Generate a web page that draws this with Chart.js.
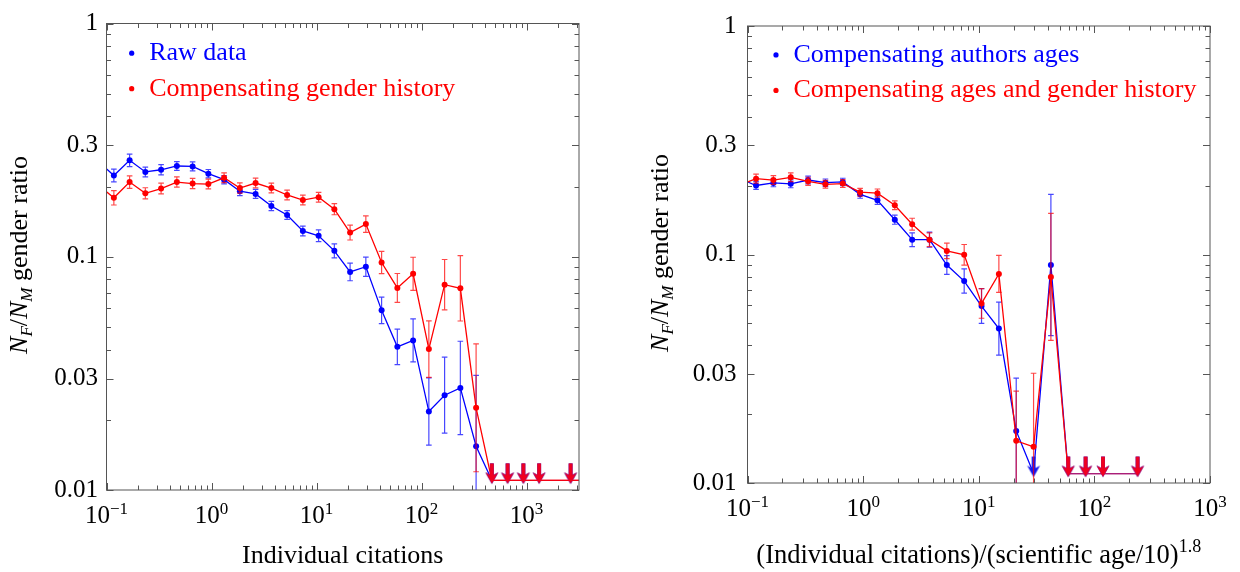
<!DOCTYPE html>
<html lang="en">
<head>
<meta charset="UTF-8">
<title>Gender ratio vs citations</title>
<script src="https://cdn.jsdelivr.net/npm/chart.js"></script>
<style>
  html, body { margin: 0; padding: 0; background: #fff; }
  #wrap { position: relative; width: 1240px; height: 572px; overflow: hidden; }
  canvas { position: absolute; top: 0; }
  #left { left: 0; }
  #right { left: 620px; }
</style>
</head>
<body>
<div id="wrap">
  <canvas id="left" width="610" height="572"></canvas>
  <canvas id="right" width="620" height="572"></canvas>
</div>
<script>
// values; null = empty bin, drawn as an upper-limit arrow
const limitLevel = 0.011;

// left panel: individual citations
const leftCites = [0.0832, 0.1175, 0.166, 0.2344, 0.3311, 0.4677, 0.6607, 0.9333, 1.318, 1.862,
  2.63, 3.715, 5.248, 7.413, 10.47, 14.79, 20.89, 29.51, 41.69, 58.88,
  83.18, 117.5, 166, 234.4, 331.1, 467.7, 660.7, 933.3, 1318, 2630, 3715];
const rawRatio = [0.257, 0.223, 0.259, 0.231, 0.236, 0.245, 0.244, 0.227, 0.214, 0.191,
  0.186, 0.165, 0.151, 0.129, 0.123, 0.106, 0.0861, 0.0906, 0.0589, 0.0411,
  0.0438, 0.0217, 0.0255, 0.0274, 0.0154, null, null, null, null, null, null];
const rawErr = [0.027, 0.027, 0.027, 0.021, 0.022, 0.019, 0.019, 0.018, 0.018, 0.019,
  0.019, 0.020, 0.019, 0.021, 0.025, 0.030, 0.038, 0.041, 0.057, 0.076,
  0.092, 0.144, 0.163, 0.200, 0.304, null, null, null, null, null, null];
const genderRatio = [0.203, 0.179, 0.209, 0.187, 0.196, 0.209, 0.206, 0.205, 0.218, 0.197,
  0.207, 0.197, 0.184, 0.175, 0.180, 0.160, 0.127, 0.138, 0.0945, 0.0735,
  0.0845, 0.0402, 0.0759, 0.0732, 0.0225, null, null, null, null, null, null];
const genderErr = [0.030, 0.031, 0.027, 0.024, 0.023, 0.022, 0.022, 0.021, 0.021, 0.022,
  0.021, 0.021, 0.021, 0.021, 0.021, 0.024, 0.032, 0.035, 0.048, 0.062,
  0.071, 0.121, 0.108, 0.140, 0.274, null, null, null, null, null, null];

// right panel: citations / (scientific age/10)^1.8
const ageCites = [0.0839, 0.1186, 0.1675, 0.2366, 0.3342, 0.4721, 0.6668, 0.9419, 1.330, 1.879,
  2.655, 3.750, 5.297, 7.482, 10.57, 14.93, 21.09, 29.79, 42.07, 59.43,
  83.95, 118.6, 236.6];
const ageRatio = [0.216, 0.2004, 0.2058, 0.2038, 0.2118, 0.2063, 0.2078, 0.1833, 0.1726, 0.1420,
  0.1161, 0.1161, 0.0899, 0.0765, 0.0595, 0.0474, 0.0169, null, 0.0899, null,
  null, null, null];
const ageErr = [0.017, 0.017, 0.017, 0.017, 0.017, 0.016, 0.016, 0.017, 0.018, 0.020,
  0.030, 0.033, 0.041, 0.053, 0.076, 0.116, 0.231, null, 0.309, null,
  null, null, null];
const ageGenderRatio = [0.2004, 0.2148, 0.2118, 0.2177, 0.2090, 0.2029, 0.2043, 0.1874, 0.1856, 0.1643,
  0.1357, 0.1161, 0.1037, 0.0997, 0.0611, 0.0822, 0.0153, 0.0144, 0.0798, null,
  null, null, null];
const ageGenderErr = [0.020, 0.020, 0.019, 0.019, 0.018, 0.017, 0.017, 0.017, 0.018, 0.019,
  0.026, 0.030, 0.034, 0.045, 0.065, 0.081, 0.217, 0.322, 0.278, null,
  null, null, null];

const yTickLabels = [0.01, 0.03, 0.1, 0.3, 1];
const xTickValues = [0.1, 1, 10, 100, 1000];
const xTickExps = ['\u22121', '0', '1', '2', '3'];

const serif = "'Liberation Serif', 'Times New Roman', serif";
const BLUE = '#0000ff', RED = '#ff0000';

// down arrow used as point style, the tip sits just under the point
function arrowImage(color) {
    const c = document.createElement('canvas');
    c.width = 16; c.height = 40;
    const g = c.getContext('2d');
    const cx = 8, cy = 20;
    g.fillStyle = color;
    g.fillRect(cx - 1.9, cy - 17, 3.8, 14);
    g.beginPath();
    g.moveTo(cx, cy + 3.5);
    g.lineTo(cx - 6.5, cy - 8);
    g.lineTo(cx, cy - 4.5);
    g.lineTo(cx + 6.5, cy - 8);
    g.closePath();
    g.fill();
    return c;
}

function withAlpha(hex, a) {
    const n = parseInt(hex.slice(1), 16);
    return `rgba(${n >> 16},${(n >> 8) & 255},${n & 255},${a})`;
}

// error bars, frame, inward ticks, x labels with exponents, y title, legend
const decorPlugin = {
    id: 'decor',
    beforeDatasetDraw(chart, args) {
        const ds = chart.data.datasets[args.index];
        if (!ds.errLog) return;
        const {ctx, chartArea: a} = chart;
        const xs = chart.scales.x, ys = chart.scales.y;
        ctx.save();
        ctx.beginPath();
        ctx.rect(a.left, a.top, a.right - a.left, a.bottom - a.top);
        ctx.clip();
        ctx.strokeStyle = withAlpha(ds.borderColor, 0.72);
        ctx.lineWidth = 1.2;
        ctx.beginPath();
        ds.cites.forEach((c, i) => {
            const v = ds.ratio[i], e = ds.errLog[i];
            if (v === null || e === null) return;
            const px = xs.getPixelForValue(c);
            const hi = ys.getPixelForValue(v * Math.pow(10, e));
            const lo = ys.getPixelForValue(v / Math.pow(10, e));
            ctx.moveTo(px, hi); ctx.lineTo(px, lo);
            ctx.moveTo(px - 2.8, hi); ctx.lineTo(px + 2.8, hi);
            ctx.moveTo(px - 2.8, lo); ctx.lineTo(px + 2.8, lo);
        });
        ctx.stroke();
        ctx.restore();
    },
    afterDraw(chart, args, o) {
        const {ctx, chartArea: a} = chart;
        const xs = chart.scales.x, ys = chart.scales.y;
        ctx.save();
        ctx.strokeStyle = '#555';
        ctx.lineWidth = 1;
        ctx.strokeRect(a.left, a.top, a.right - a.left, a.bottom - a.top);
        ctx.beginPath();
        for (let d = -1; d <= 3; d++) {
            for (let m = 1; m <= 9; m++) {
                const v = m * Math.pow(10, d);
                if (v < xs.min * 0.999 || v > xs.max * 1.001) continue;
                const px = Math.round(xs.getPixelForValue(v)) + 0.5, len = m === 1 ? 7 : 4.5;
                ctx.moveTo(px, a.bottom); ctx.lineTo(px, a.bottom - len);
                ctx.moveTo(px, a.top); ctx.lineTo(px, a.top + len);
            }
        }
        for (let d = -2; d <= 0; d++) {
            for (let m = 1; m <= 9; m++) {
                const v = m * Math.pow(10, d);
                if (v > ys.max * 1.001) continue;
                const py = Math.round(ys.getPixelForValue(v)) + 0.5, len = (m === 1 || m === 3) ? 7 : 4.5;
                ctx.moveTo(a.left, py); ctx.lineTo(a.left + len, py);
                ctx.moveTo(a.right, py); ctx.lineTo(a.right - len, py);
            }
        }
        ctx.stroke();

        // x tick labels 10^n
        ctx.fillStyle = '#000';
        ctx.textAlign = 'left';
        ctx.textBaseline = 'alphabetic';
        xTickValues.forEach((v, i) => {
            const px = xs.getPixelForValue(v);
            ctx.font = `25px ${serif}`;
            const w1 = ctx.measureText('10').width;
            ctx.font = `17px ${serif}`;
            const w2 = ctx.measureText(xTickExps[i]).width;
            const x0 = px - (w1 + w2) / 2, base = a.bottom + 33;
            ctx.font = `25px ${serif}`;
            ctx.fillText('10', x0, base);
            ctx.font = `17px ${serif}`;
            ctx.fillText(xTickExps[i], x0 + w1, base - 9);
        });

        // y title N_F/N_M gender ratio
        const parts = [['N', 'italic 26px', 0], ['F', 'italic 17px', 5], ['/', '26px', 0],
            ['N', 'italic 26px', 0], ['M', 'italic 17px', 5], [' gender ratio', '26px', 0]];
        let total = 0;
        parts.forEach(p => { ctx.font = `${p[1]} ${serif}`; total += ctx.measureText(p[0]).width; });
        ctx.save();
        ctx.translate(o.yTitleX, o.yTitleY);
        ctx.rotate(-Math.PI / 2);
        let x = -total / 2;
        parts.forEach(p => {
            ctx.font = `${p[1]} ${serif}`;
            ctx.fillText(p[0], x, p[2]);
            x += ctx.measureText(p[0]).width;
        });
        ctx.restore();

        // x title with exponent (right panel)
        if (o.xTitleMain) {
            ctx.font = `26.5px ${serif}`;
            const w1 = ctx.measureText(o.xTitleMain).width;
            ctx.font = `18px ${serif}`;
            const w2 = ctx.measureText(o.xTitleExp).width;
            const x0 = (a.left + a.right) / 2 - (w1 + w2) / 2;
            ctx.font = `26.5px ${serif}`;
            ctx.fillText(o.xTitleMain, x0, o.xTitleBase);
            ctx.font = `18px ${serif}`;
            ctx.fillText(o.xTitleExp, x0 + w1, o.xTitleBase - 11);
        }

        // legend inside the frame
        ctx.font = `26px ${serif}`;
        o.legend.forEach((item, i) => {
            const base = o.legendBase + i * 35.5;
            ctx.fillStyle = item.color;
            ctx.beginPath();
            ctx.arc(o.legendX, base - 6.8, 2.6, 0, Math.PI * 2);
            ctx.fill();
            ctx.fillText(item.text, o.legendX + 17.5, base);
        });
        ctx.restore();
    }
};

function makeChart(id, p) {
    const line = (cites, ratio, err, color, limitColor, order) => ({
        order,
        cites, ratio, errLog: err,
        data: cites.map((x, i) => ({x, y: ratio[i] === null ? limitLevel : ratio[i]})),
        borderColor: color,
        backgroundColor: color,
        borderWidth: 1.3,
        pointRadius: ctx => ratio[ctx.dataIndex] === null ? 0 : 3,
        pointBorderWidth: 0,
        pointHoverRadius: 0,
        tension: 0,
        clip: 0,
        segment: {
            borderColor: s => (ratio[s.p0DataIndex] === null && ratio[s.p1DataIndex] === null) ? limitColor : undefined
        }
    });
    const arrows = (cites, ratio, img, order) => ({
        order,
        data: cites.map((x, i) => ratio[i] === null ? {x, y: limitLevel} : null).filter(d => d),
        showLine: false,
        pointStyle: img,
        pointRadius: 6,
        clip: 0
    });

    return new Chart(document.getElementById(id), {
        type: 'line',
        data: {
            datasets: [
                line(p.cites, p.blue, p.blueErr, BLUE, p.limitColor, 3),
                arrows(p.cites, p.blue, arrowImage('rgb(20,20,240)'), 2),
                line(p.cites, p.red, p.redErr, RED, p.limitColor, 1),
                arrows(p.cites, p.red, arrowImage('rgb(240,0,32)'), 0)
            ]
        },
        options: {
            responsive: false,
            animation: false,
            events: [],
            layout: {padding: p.padding},
            plugins: {
                legend: {display: false},
                tooltip: {enabled: false},
                decor: p.decor
            },
            scales: {
                x: {
                    type: 'logarithmic',
                    min: 0.1,
                    max: p.xMax,
                    grid: {display: false, drawTicks: false},
                    border: {display: false},
                    ticks: {display: false},
                    title: p.xTitle,
                    afterFit: s => { s.height = p.xAxisHeight; }
                },
                y: {
                    type: 'logarithmic',
                    min: 0.01,
                    max: 1,
                    grid: {display: false, drawTicks: false},
                    border: {display: false},
                    ticks: {
                        autoSkip: false,
                        padding: p.yTickPad,
                        color: '#000',
                        font: {family: serif, size: 25},
                        callback: v => {
                            const s = +Number(v).toPrecision(2);
                            return yTickLabels.includes(s) ? String(s) : '';
                        }
                    },
                    afterFit: s => { s.width = p.yAxisWidth; }
                }
            }
        },
        plugins: [decorPlugin]
    });
}

makeChart('left', {
    cites: leftCites,
    blue: rawRatio, blueErr: rawErr,
    red: genderRatio, redErr: genderErr,
    limitColor: 'rgb(245,0,20)',
    xMax: 3162,
    padding: {top: 19, right: 31, left: 0, bottom: 0},
    xAxisHeight: 82,
    yAxisWidth: 106.5,
    yTickPad: 8.5,
    xTitle: {display: true, text: 'Individual citations', color: '#000',
        font: {family: serif, size: 26}, padding: {top: 0, bottom: 0}},
    decor: {
        yTitleX: 26.5, yTitleY: 255,
        legendX: 131.7, legendBase: 60,
        legend: [{text: 'Raw data', color: BLUE}, {text: 'Compensating gender history', color: RED}]
    }
});

makeChart('right', {
    cites: ageCites,
    blue: ageRatio, blueErr: ageErr,
    red: ageGenderRatio, redErr: ageGenderErr,
    limitColor: 'rgb(170,30,120)',
    xMax: 1000,
    padding: {top: 20, right: 30, left: 0, bottom: 0},
    xAxisHeight: 89,
    yAxisWidth: 127.5,
    yTickPad: 11,
    xTitle: {display: false},
    decor: {
        yTitleX: 47.5, yTitleY: 253,
        xTitleMain: '(Individual citations)/(scientific age/10)', xTitleExp: '1.8', xTitleBase: 563,
        legendX: 156, legendBase: 61.7,
        legend: [{text: 'Compensating authors ages', color: BLUE},
            {text: 'Compensating ages and gender history', color: RED}]
    }
});
</script>
</body>
</html>
